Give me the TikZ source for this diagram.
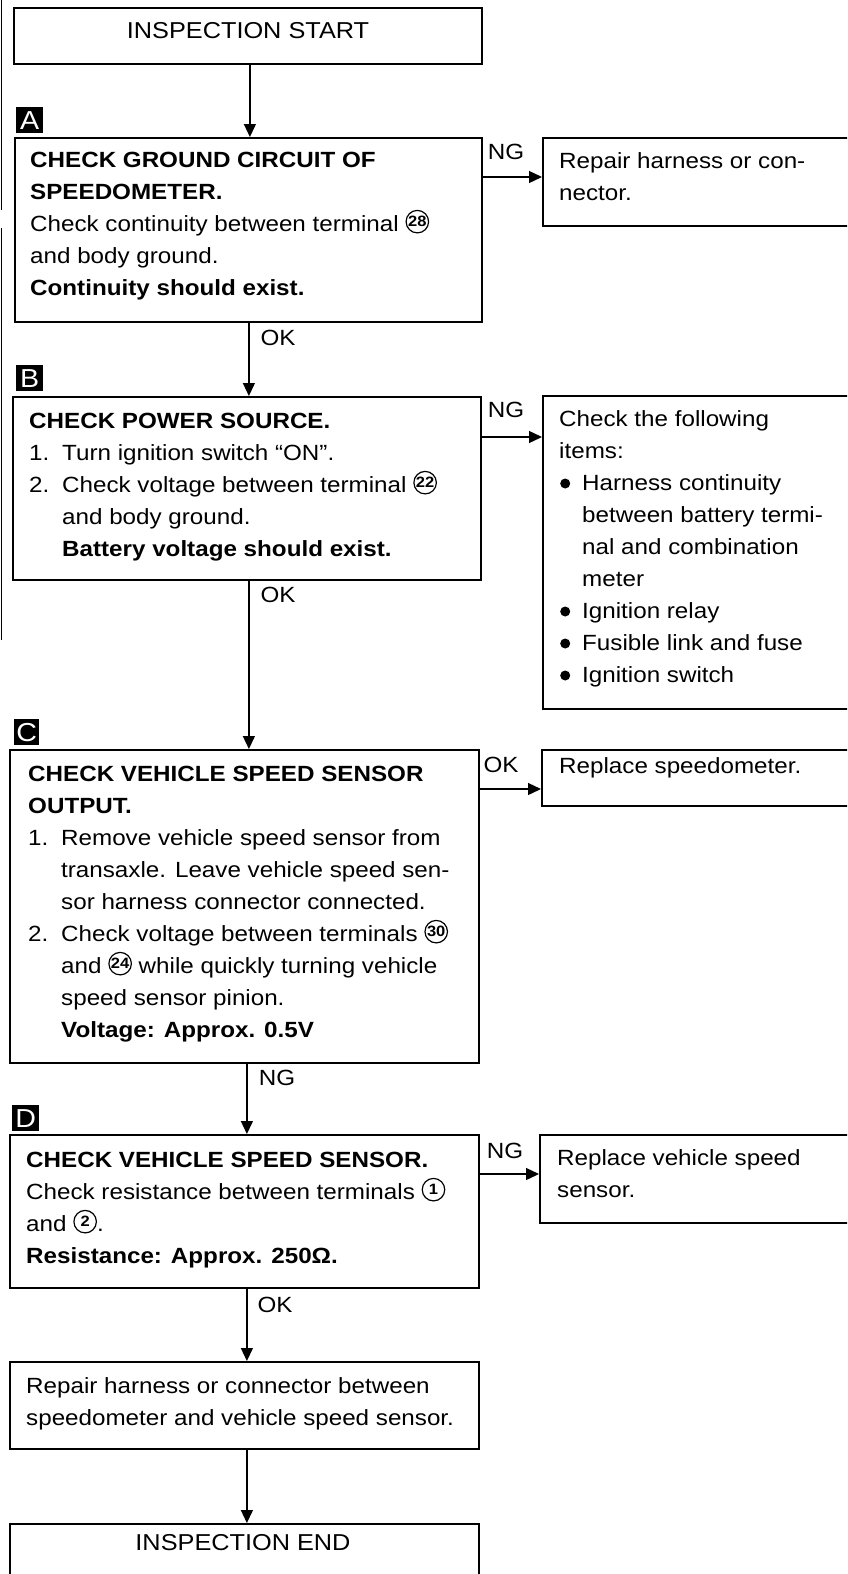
\documentclass[tikz,border=0pt]{standalone}
\usepackage{fontspec}
\setmainfont{Liberation Sans}[FakeStretch=1.1]
\usetikzlibrary{arrows.meta}
\newcommand{\cnum}[1]{\raisebox{-2.5pt}{\tikz\node[circle,draw,line width=1.2pt,inner sep=0pt,minimum size=22.5pt,font=\fontsize{15}{15}\selectfont\bfseries]{#1};}}
\newcommand{\bul}{\makebox[23pt][l]{\hspace{1pt}\raisebox{1.5pt}{\tikz\fill (0,0) circle (5pt);}}}
\newcommand{\numb}[1]{\makebox[33pt][l]{#1}}
\newcommand{\ind}{\hspace*{33pt}}
\newcommand{\bind}{\hspace*{23pt}}
\begin{document}
\begin{tikzpicture}[x=1pt,y=-1pt,
  box/.style={draw, line width=1.8pt, inner sep=0pt, anchor=north west},
  txt/.style={inner sep=0pt, anchor=base west, align=left, font=\fontsize{22}{32}\selectfont},
  lbl/.style={inner sep=0pt, font=\fontsize{22}{26}\selectfont},
  ttl/.style={inner sep=0pt, font=\fontsize{23}{26}\selectfont},
  badge/.style={fill=black, text=white, inner sep=0pt, minimum width=27pt, minimum height=26pt, anchor=north west, font=\fontsize{26}{26}\selectfont},
  arr/.style={line width=1.3pt, -{Triangle[width=12pt,length=13pt]}},
  edge/.style={line width=1.5pt},
]
\useasboundingbox (0,0) rectangle (847,1574);
\fill[white] (0,0) rectangle (847,1574);
\clip (0,0) rectangle (847,1574);

% scan edge
\draw[edge] (1.5,0) -- (1.5,210);
\draw[edge] (1.5,228) -- (1.5,640);

% boxes
\node[box, minimum width=468pt, minimum height=56pt] (start) at (13,7) {};
\node[box, minimum width=467pt, minimum height=184pt] (A) at (14,137) {};
\node[box, minimum width=468pt, minimum height=183pt] (B) at (12,396) {};
\node[box, minimum width=469pt, minimum height=313pt] (C) at (9,749) {};
\node[box, minimum width=469pt, minimum height=153pt] (D) at (9,1134) {};
\node[box, minimum width=469pt, minimum height=87pt] (rep2) at (9,1361) {};
\node[box, minimum width=469pt, minimum height=90pt] (endb) at (9,1523) {};
\node[box, minimum width=330pt, minimum height=88pt] (rep1) at (542,137) {};
\node[box, minimum width=330pt, minimum height=313pt] (chk) at (542,395) {};
\node[box, minimum width=330pt, minimum height=56pt] (rsp) at (541,749) {};
\node[box, minimum width=330pt, minimum height=88pt] (rvs) at (539,1134) {};

% badges
\node[badge] (bA) at (16,107) {A};
\node[badge] (bB) at (16,365) {B};
\node[badge, minimum width=25pt] (bC) at (14,719) {C};
\node[badge] (bD) at (12,1105) {D};

% texts (anchored at the baseline of the last line)
\node[ttl] (tstart) at (248,31) {INSPECTION START};
\node[ttl] (tend) at (243,1543) {INSPECTION END};

\node[txt] (tA) at (30,295) {\textbf{CHECK GROUND CIRCUIT OF}\\
\textbf{SPEEDOMETER.}\\
Check continuity between terminal \cnum{28}\\
and body ground.\\
\textbf{Continuity should exist.}};

\node[txt] (tB) at (29,556) {\textbf{CHECK POWER SOURCE.}\\
\numb{1.}Turn ignition switch “ON”.\\
\numb{2.}Check voltage between terminal \cnum{22}\\
\ind and body ground.\\
\ind\textbf{Battery voltage should exist.}};

\node[txt] (tC) at (28,1037) {\textbf{CHECK VEHICLE SPEED SENSOR}\\
\textbf{OUTPUT.}\\
\numb{1.}Remove vehicle speed sensor from\\
\ind transaxle. Leave vehicle speed sen-\\
\ind sor harness connector connected.\\
\numb{2.}Check voltage between terminals \cnum{30}\\
\ind and \cnum{24} while quickly turning vehicle\\
\ind speed sensor pinion.\\
\ind\textbf{Voltage: Approx. 0.5V}};

\node[txt] (tD) at (26,1263) {\textbf{CHECK VEHICLE SPEED SENSOR.}\\
Check resistance between terminals \cnum{1}\\
and \cnum{2}.\\
\textbf{Resistance: Approx. 250Ω.}};

\node[txt] (trep2) at (26,1425) {Repair harness or connector between\\
speedometer and vehicle speed sensor.};

\node[txt] (trep1) at (559,200) {Repair harness or con-\\
nector.};

\node[txt] (tchk) at (559,682) {Check the following\\
items:\\
\bul Harness continuity\\
\bind between battery termi-\\
\bind nal and combination\\
\bind meter\\
\bul Ignition relay\\
\bul Fusible link and fuse\\
\bul Ignition switch};

\node[txt] (trsp) at (559,773) {Replace speedometer.};

\node[txt] (trvs) at (557,1197) {Replace vehicle speed\\
sensor.};

% vertical arrows
\draw[arr] ([xshift=2pt]start.south) -- ([xshift=2pt]start.south |- A.north);
\draw[arr] ([xshift=0.5pt]A.south) -- ([xshift=0.5pt]A.south |- B.north);
\draw[arr] ([xshift=2pt]B.south) -- ([xshift=2pt]B.south |- C.north);
\draw[arr] ([xshift=2.5pt]C.south) -- ([xshift=2.5pt]C.south |- D.north);
\draw[arr] ([xshift=2.5pt]D.south) -- ([xshift=2.5pt]D.south |- rep2.north);
\draw[arr] ([xshift=2.5pt]rep2.south) -- ([xshift=2.5pt]rep2.south |- endb.north);

% side arrows
\draw[arr] ([yshift=-40pt]A.north east) -- ([yshift=-40pt]A.north east -| rep1.west);
\draw[arr] ([yshift=-41pt]B.north east) -- ([yshift=-41pt]B.north east -| chk.west);
\draw[arr] ([yshift=-40pt]C.north east) -- ([yshift=-40pt]C.north east -| rsp.west);
\draw[arr] ([yshift=-40pt]D.north east) -- ([yshift=-40pt]D.north east -| rvs.west);

% labels
\node[lbl] (lA) at (506,152) {NG};
\node[lbl] (lB) at (506,410) {NG};
\node[lbl] (lC) at (501,765) {OK};
\node[lbl] (lD) at (505,1151) {NG};
\node[lbl] (lAB) at (278,338) {OK};
\node[lbl] (lBC) at (278,595) {OK};
\node[lbl] (lCD) at (277,1078) {NG};
\node[lbl] (lDE) at (275,1305) {OK};
\end{tikzpicture}
\end{document}
